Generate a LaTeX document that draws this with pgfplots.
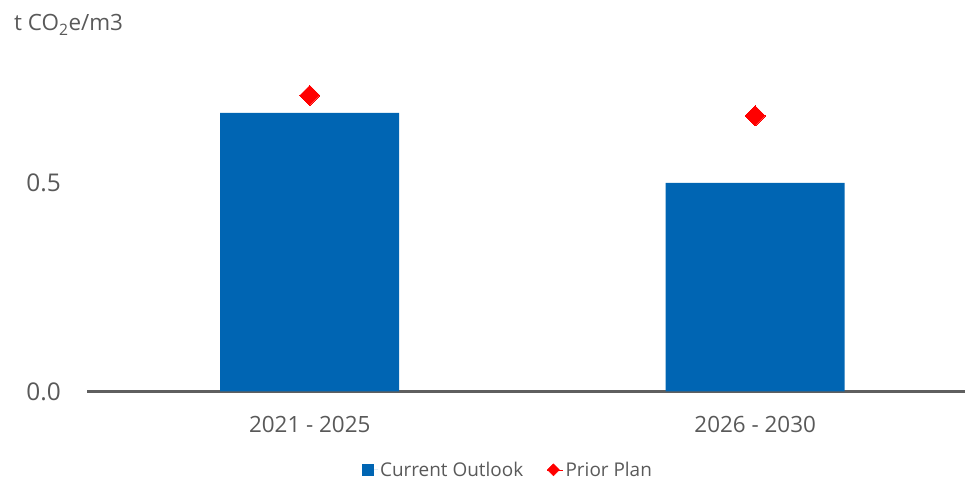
\documentclass[border=0pt]{standalone}
\usepackage{pgfplots}
\pgfplotsset{compat=1.18}
\usepackage{fontspec}
\setmainfont{Open Sans}
\definecolor{barblue}{RGB}{0,101,179}
\definecolor{txtgray}{RGB}{89,89,89}
\definecolor{axgray}{RGB}{95,95,95}
\begin{document}
\begin{tikzpicture}
\useasboundingbox (0,0) rectangle (965bp,481bp);
\begin{axis}[
  at={(87bp,89.5bp)}, anchor=south west,
  scale only axis, width=878bp, height=354.5bp,
  xmin=-0.5, xmax=1.471, ymin=0, ymax=0.85,
  axis x line*=bottom, axis y line=none,
  axis line style={draw=axgray, line width=2bp, -},
  xtick={0,1}, xticklabels={2021 - 2025, 2026 - 2030},
  major tick length=0pt,
  xticklabel style={anchor=base, yshift=-40.5bp, font=\fontsize{22.5}{26}\selectfont, text=txtgray},
  ytick=\empty,
  legend style={at={(0.4795,-0.221)}, anchor=center, draw=none, fill=none,
    legend columns=2, font=\fontsize{19}{22}\selectfont, text=txtgray,
    /tikz/every even column/.append style={column sep=22bp},
    inner sep=0pt},
  legend cell align=left,
]
\addplot[ybar, bar width=179bp, fill=barblue, draw=none,
  legend image code/.code={\fill[barblue] (0bp,-6bp) rectangle (12bp,6bp); \path (0bp,0bp) -- (16bp,0bp);}]
  coordinates {(0,0.668) (1,0.5)};
\addlegendentry{Current Outlook}
\addplot[red, only marks, mark=square*, mark size=7.1bp, mark options={rotate=45, fill=red, draw=red, line width=0pt},
  legend image code/.code={\fill[red] (0bp,0bp) -- (6bp,6bp) -- (12bp,0bp) -- (6bp,-6bp) -- cycle; \path (0bp,0bp) -- (16bp,0bp);}]
  coordinates {(0,0.710) (1,0.661)};
\addlegendentry{Prior Plan}
\end{axis}
\node[anchor=east, inner sep=0pt, text=txtgray, font=\fontsize{24.5}{28}\selectfont] at (61bp,89.5bp) {0.0};
\node[anchor=east, inner sep=0pt, text=txtgray, font=\fontsize{24.5}{28}\selectfont] at (61bp,298bp) {0.5};
\node[anchor=base west, inner sep=0pt, text=txtgray, font=\fontsize{22.5}{26}\selectfont] at (14bp,450bp) {t CO\textsubscript{2}e/m3};
\end{tikzpicture}
\end{document}
